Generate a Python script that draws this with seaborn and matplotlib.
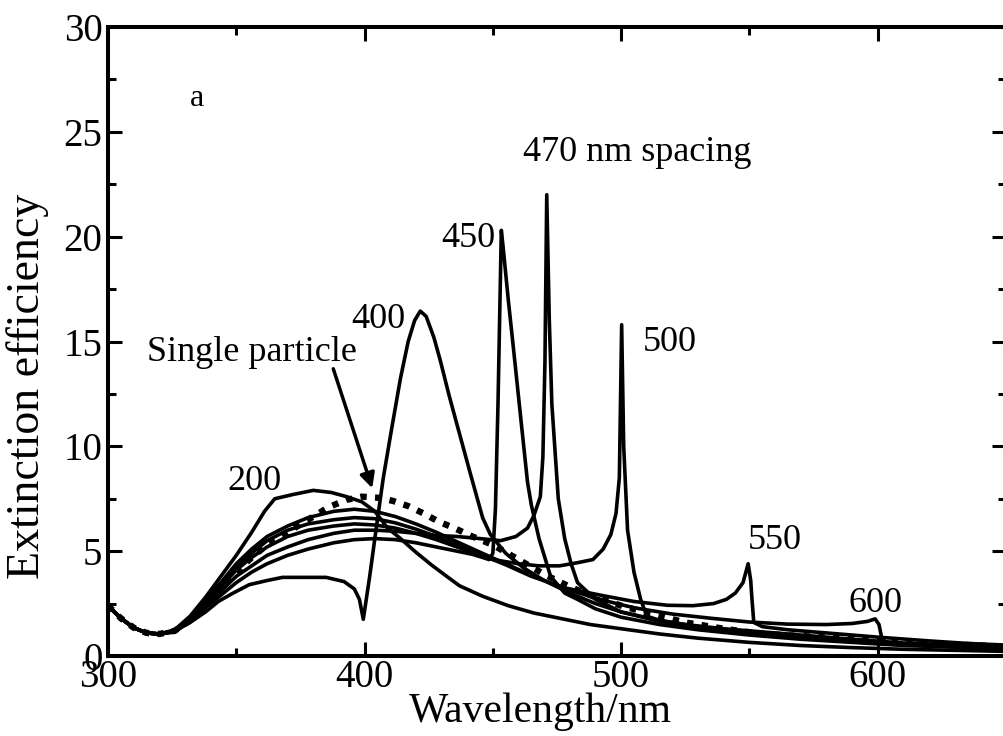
import matplotlib
matplotlib.use("Agg")
import matplotlib.pyplot as plt
import seaborn as sns
import pandas as pd
from matplotlib.ticker import MultipleLocator

# ---------------- data ----------------
start_x = [300, 305, 310, 315, 320]
start_y = [2.4, 1.8, 1.35, 1.1, 1.05]

single_x = start_x + [326, 332, 338, 344, 350, 356, 362, 370, 378, 386, 393, 399, 405, 411, 417, 423, 429, 435,
                      442, 450, 460, 470, 480, 490, 500, 512, 525, 540, 555, 570, 585, 600, 615, 630, 650]
single_y = start_y + [1.2, 1.7, 2.4, 3.2, 4.0, 4.7, 5.3, 5.9, 6.5, 7.1, 7.45, 7.6, 7.55, 7.4, 7.15, 6.8, 6.4, 6.1,
                      5.7, 5.3, 4.6, 3.9, 3.3, 2.8, 2.4, 2.0, 1.6, 1.3, 1.05, 0.95, 0.85, 0.75, 0.62, 0.55, 0.45]

s200_x = start_x + [326, 332, 338, 344, 350, 356, 361, 365, 372, 380, 387, 393, 399, 404, 409, 414, 420, 426, 432,
                    437, 446, 456, 466, 476, 488, 500, 515, 530, 550, 570, 590, 610, 630, 650]
s200_y = start_y + [1.25, 1.9, 2.8, 3.8, 4.8, 5.9, 6.9, 7.5, 7.7, 7.9, 7.8, 7.6, 7.35, 6.9, 6.1, 5.6, 4.95, 4.35, 3.8,
                    3.35, 2.85, 2.4, 2.05, 1.8, 1.5, 1.3, 1.05, 0.85, 0.65, 0.5, 0.4, 0.32, 0.27, 0.22]

s400_x = start_x + [326, 332, 338, 343, 348, 355, 362, 368, 378, 385, 392, 396, 398, 399.5, 402, 405, 407.3, 410.5,
                    414, 417, 419.5, 421.7, 424, 427, 429.5, 433, 437, 441, 446, 449, 455, 462, 470, 480, 490, 500,
                    515, 530, 550, 570, 590, 610, 630, 650]
s400_y = start_y + [1.2, 1.6, 2.1, 2.6, 2.95, 3.4, 3.6, 3.75, 3.75, 3.75, 3.55, 3.2, 2.7, 1.75, 3.8, 6.5, 8.5, 10.8,
                    13.25, 15.0, 16.0, 16.45, 16.2, 15.2, 14.1, 12.4, 10.6, 8.8, 6.6, 5.8, 4.9, 4.2, 3.6, 3.0, 2.5, 2.1,
                    1.7, 1.4, 1.1, 0.85, 0.7, 0.55, 0.45, 0.38]

s450_x = start_x + [326, 332, 338, 344, 350, 356, 362, 370, 378, 388, 396, 404, 412, 420, 428, 436, 442, 446, 448.5,
                    450, 451, 452, 453.3, 454, 456, 458, 461, 463.5, 465, 468, 472.5, 478, 483, 490, 500, 515, 530,
                    550, 570, 590, 610, 630, 650]
s450_y = start_y + [1.15, 1.65, 2.3, 2.9, 3.5, 4.0, 4.4, 4.8, 5.1, 5.4, 5.55, 5.6, 5.55, 5.4, 5.2, 5.0, 4.85, 4.7, 4.6,
                    4.9, 7.0, 12.0, 20.3, 19.5, 17.0, 14.7, 11.2, 8.3, 7.2, 5.6, 3.8, 3.0, 2.7, 2.25, 1.85, 1.5, 1.25,
                    1.0, 0.8, 0.65, 0.5, 0.42, 0.35]

s470_x = start_x + [326, 332, 338, 344, 350, 356, 362, 370, 378, 388, 396, 404, 412, 420, 428, 436, 445, 453, 459,
                    463.5, 466, 468.5, 469.5, 470.3, 471, 472, 473, 475.5, 478, 480.5, 483, 490, 500, 515, 530, 550,
                    570, 590, 610, 630, 650]
s470_y = start_y + [1.15, 1.7, 2.4, 3.1, 3.8, 4.3, 4.8, 5.2, 5.55, 5.85, 6.0, 6.0, 5.95, 5.85, 5.75, 5.7, 5.6, 5.5, 5.7,
                    6.1, 6.7, 7.6, 9.5, 14.0, 22.0, 16.0, 12.0, 7.5, 5.6, 4.4, 3.5, 2.7, 2.1, 1.65, 1.35, 1.05,
                    0.85, 0.68, 0.54, 0.45, 0.38]

s500_x = start_x + [326, 332, 338, 344, 350, 356, 362, 370, 378, 388, 396, 404, 412, 420, 428, 436, 443, 450, 460,
                    468, 476, 483, 489, 493, 496, 498, 499.3, 500.2, 501, 502.5, 505, 507.6, 510, 515, 525, 540, 555,
                    570, 590, 610, 630, 650]
s500_y = start_y + [1.2, 1.75, 2.5, 3.3, 4.1, 4.7, 5.2, 5.7, 6.0, 6.2, 6.3, 6.25, 6.1, 5.85, 5.55, 5.2, 4.9, 4.6, 4.4,
                    4.3, 4.3, 4.45, 4.6, 5.1, 5.8, 6.8, 8.5, 15.8, 10.0, 6.0, 4.0, 2.7, 1.9, 1.7, 1.5, 1.3, 1.15,
                    1.0, 0.8, 0.62, 0.52, 0.44]

s550_x = start_x + [326, 332, 338, 344, 350, 356, 362, 370, 378, 388, 396, 404, 412, 420, 428, 436, 445, 455, 465,
                    478, 492, 505, 518, 528, 536, 541, 544.5, 547.5, 549.5, 550.5, 551, 551.7, 555, 565, 580, 600,
                    620, 635, 650]
s550_y = start_y + [1.2, 1.8, 2.6, 3.4, 4.2, 4.9, 5.5, 6.0, 6.3, 6.5, 6.6, 6.55, 6.35, 6.05, 5.7, 5.3, 4.85, 4.35, 3.8,
                    3.25, 2.9, 2.6, 2.42, 2.4, 2.5, 2.7, 3.0, 3.5, 4.4, 3.6, 2.7, 1.6, 1.4, 1.25, 1.1, 0.9,
                    0.72, 0.6, 0.52]

s600_x = start_x + [326, 332, 338, 344, 350, 356, 362, 370, 378, 388, 396, 404, 412, 420, 428, 436, 445, 455, 465,
                    475, 485, 495, 505, 520, 535, 550, 565, 580, 590, 596, 599, 600.5, 601.5, 603, 615, 630, 650]
s600_y = start_y + [1.2, 1.85, 2.7, 3.5, 4.4, 5.1, 5.7, 6.2, 6.6, 6.9, 7.0, 6.9, 6.65, 6.3, 5.9, 5.45, 4.95, 4.4, 3.85,
                    3.35, 2.95, 2.6, 2.3, 2.0, 1.8, 1.62, 1.52, 1.5, 1.55, 1.65, 1.77, 1.5, 0.9, 0.65, 0.55, 0.47, 0.4]

solid_series = {
    "200": (s200_x, s200_y),
    "400": (s400_x, s400_y),
    "450": (s450_x, s450_y),
    "470": (s470_x, s470_y),
    "500": (s500_x, s500_y),
    "550": (s550_x, s550_y),
    "600": (s600_x, s600_y),
}

x_ticks = [300, 400, 500, 600]
y_ticks = [0, 5, 10, 15, 20, 25, 30]

# ---------------- build long-form table ----------------
rows = []
for name, (xs, ys) in solid_series.items():
    for xv, yv in zip(xs, ys):
        rows.append({"series": name, "wavelength": xv, "efficiency": yv})
df = pd.DataFrame(rows)
df_single = pd.DataFrame({"wavelength": single_x, "efficiency": single_y})

# ---------------- style ----------------
sns.set_style("ticks")
plt.rcParams["font.family"] = ["Liberation Serif", "DejaVu Serif"]
plt.rcParams["text.color"] = "black"
plt.rcParams["axes.labelcolor"] = "black"
plt.rcParams["xtick.color"] = "black"
plt.rcParams["ytick.color"] = "black"

fig = plt.figure(figsize=(10.04, 7.36), dpi=100)
ax = fig.add_axes([108 / 1004, 1 - 656 / 736, 898 / 1004, (656 - 27) / 736])

sns.lineplot(data=df, x="wavelength", y="efficiency", units="series", estimator=None,
             color="black", lw=2.6, sort=False, ax=ax, legend=False)
sns.lineplot(data=df_single, x="wavelength", y="efficiency", estimator=None, color="black",
             lw=4.6, sort=False, ax=ax, legend=False,
             linestyle=(0, (1, 1.3)), dash_capstyle="butt")

ax.set_xlim(300, 650)
ax.set_ylim(0, 30)
ax.set_xticks(x_ticks)
ax.set_xticklabels([str(v) for v in x_ticks])
ax.set_yticks(y_ticks)
ax.set_yticklabels([str(v) for v in y_ticks])
ax.xaxis.set_minor_locator(MultipleLocator(50))
ax.yaxis.set_minor_locator(MultipleLocator(2.5))
ax.tick_params(which="both", direction="in", top=True, right=True, width=2.2, colors="black")
ax.tick_params(which="major", length=10, labelsize=28)
ax.tick_params(axis="y", which="major", pad=4)
ax.tick_params(axis="x", which="major", pad=2)
ax.tick_params(which="minor", length=6)
for sp in ax.spines.values():
    sp.set_linewidth(2.9)
    sp.set_color("black")

ax.set_xlabel("Wavelength/nm", fontsize=30)
ax.xaxis.set_label_coords(0.481, -0.058)
ax.set_ylabel("Extinction efficiency", fontsize=33)
ax.yaxis.set_label_coords(-0.066, 0.428)

# ---------------- annotations ----------------
ax.text(334.7, 26.6, "a", fontsize=23, ha="center", va="center")
ax.text(461.9, 23.6, "470 nm spacing", fontsize=26, ha="left", va="baseline")
ax.text(451.0, 19.5, "450", fontsize=26, ha="right", va="baseline")
ax.text(415.9, 15.65, "400", fontsize=26, ha="right", va="baseline")
ax.text(315.2, 14.07, "Single particle", fontsize=26, ha="left", va="baseline")
ax.text(346.4, 7.9, "200", fontsize=26, ha="left", va="baseline")
ax.text(508.3, 14.55, "500", fontsize=26, ha="left", va="baseline")
ax.text(549.3, 5.12, "550", fontsize=26, ha="left", va="baseline")
ax.text(588.7, 2.1, "600", fontsize=26, ha="left", va="baseline")
ax.annotate("", xy=(403.0, 8.0), xytext=(387.8, 13.7),
            arrowprops=dict(arrowstyle="-|>", lw=2.5, color="black", mutation_scale=22,
                            shrinkA=0, shrinkB=0))

fig.savefig("out.png", dpi=100)
